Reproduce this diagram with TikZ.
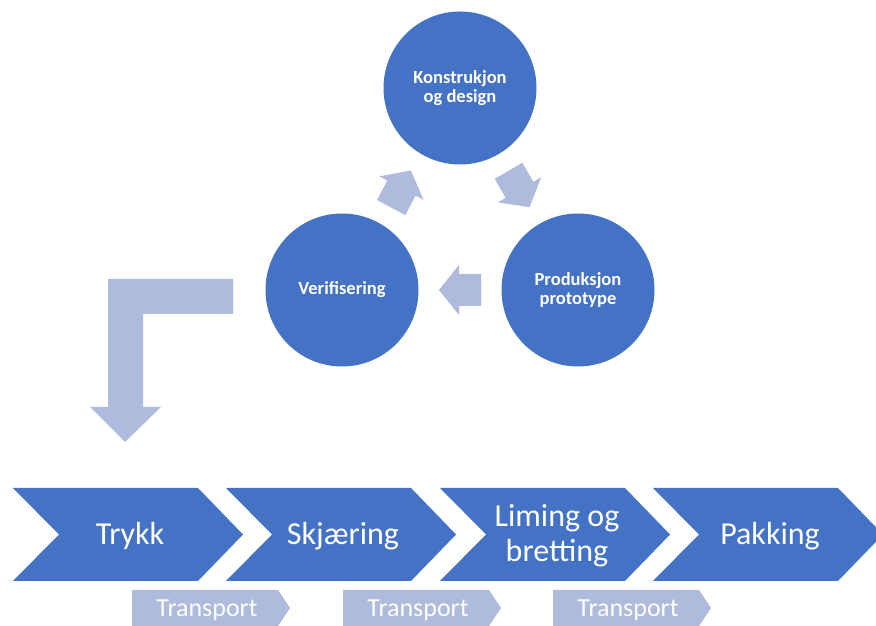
\documentclass[tikz,border=0pt]{standalone}
\usepackage{fontspec}
\setmainfont{Carlito}
\usetikzlibrary{calc}
\definecolor{stepblue}{RGB}{68,114,196}
\definecolor{arrowgray}{RGB}{174,187,220}
\newcommand{\gaparrow}[2]{%
  \fill[arrowgray, shift={#1}, rotate=#2] (-21,-16) -- (1,-16) -- (1,-25) -- (21,0) -- (1,25) -- (1,16) -- (-21,16) -- cycle;
}
\tikzset{
  phase/.style={circle, fill=stepblue, minimum size=153pt, inner sep=0pt, text=white,
    align=center, font=\bfseries\fontsize{18.5}{19}\selectfont},
  steptext/.style={text=white, align=center, inner sep=0pt, font=\fontsize{32}{35}\selectfont},
  transtext/.style={text=white, inner sep=0pt, font=\fontsize{26}{28}\selectfont}
}

\begin{document}
\begin{tikzpicture}[x=1pt, y=1pt]
  \useasboundingbox (0,0) rectangle (876,626);
  % design loop
  \node[phase] (kon) at (460,538) {Konstrukjon\\og design};
  \node[phase] (ver) at (342,336) {Verifisering};
  \node[phase] (pro) at (578,336) {Produksjon\\prototype};
  \gaparrow{($(ver)!0.5!(kon)$)}{62}
  \gaparrow{($(kon)!0.5!(pro)$)}{-60}
  \gaparrow{($(pro)!0.5!(ver)$)}{180}
  % down to production
  \fill[arrowgray] (233,347) -- (108,347) -- (108,219) -- (90,219) -- (125,184)
    -- (161,219) -- (143,219) -- (143,312) -- (233,312) -- cycle;
  % production steps
  \foreach \x/\name/\txt in {13/trykk/Trykk, 226/skjaering/Skjæring,
      440/liming/{Liming og\\bretting}, 653/pakking/Pakking} {
    \fill[stepblue] (\x,138) -- ++(185,0) -- ++(45,-46.5) -- ++(-45,-46.5)
      -- ++(-185,0) -- ++(46,46.5) -- cycle;
    \node[steptext] (\name) at (\x+117,90) {\txt};
  }
  \foreach \x/\name in {132/trans1, 343/trans2, 553/trans3} {
    \fill[arrowgray] (\x,36) -- ++(146,0) -- ++(12,-18) -- ++(-12,-18) -- ++(-146,0) -- cycle;
    \node[transtext] (\name) at (\x+75,16) {Transport};
  }
\end{tikzpicture}
\end{document}
